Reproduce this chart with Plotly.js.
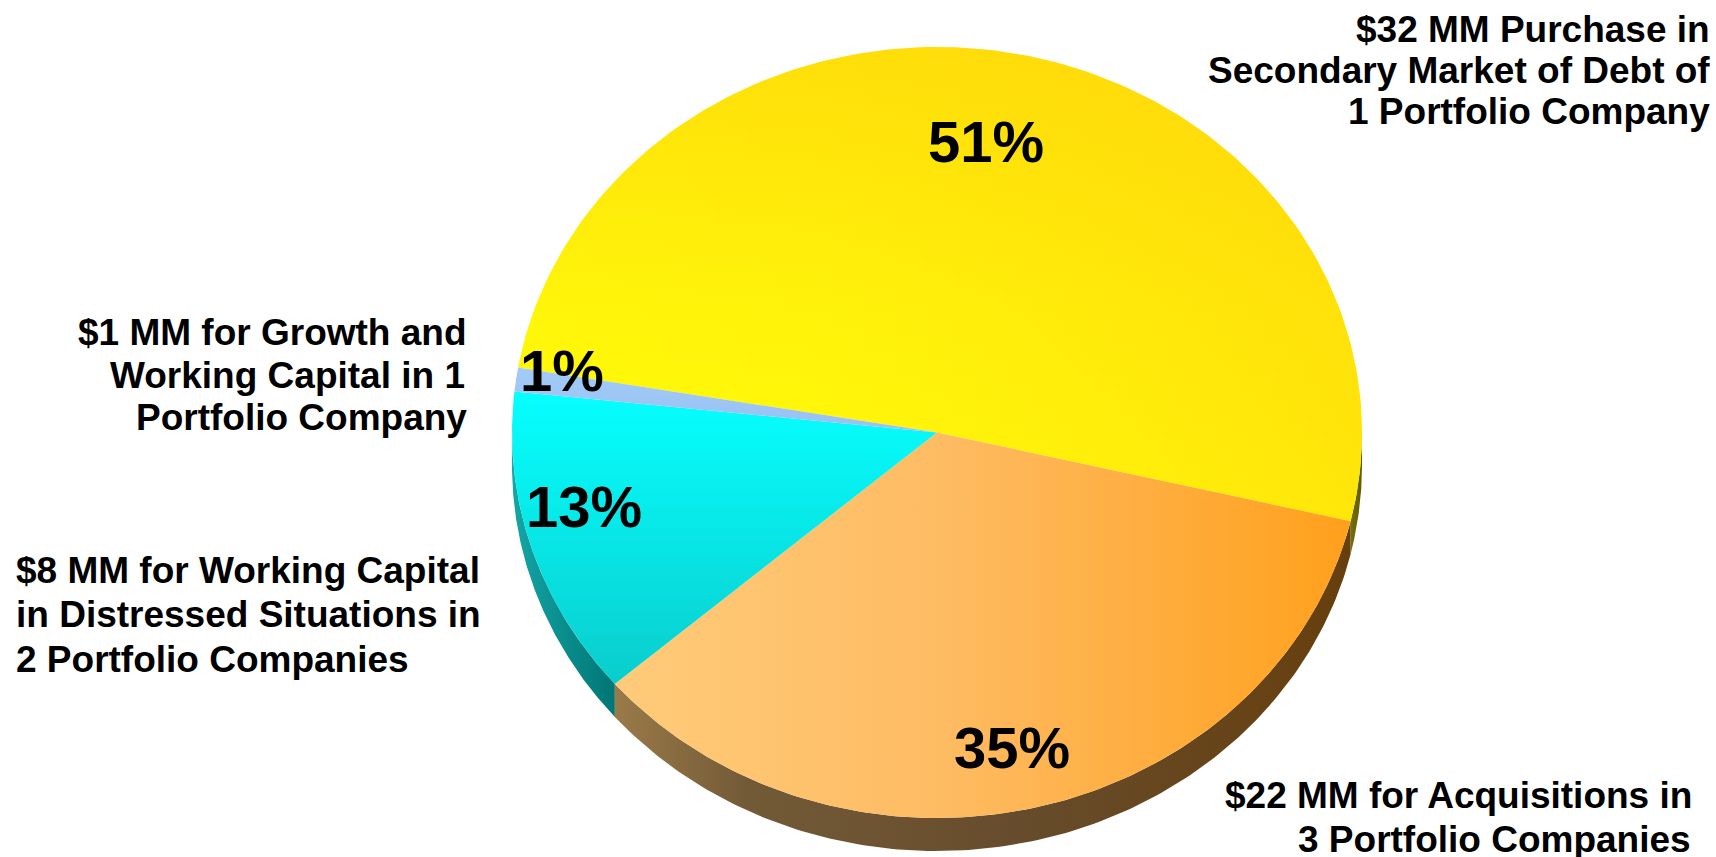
<!DOCTYPE html>
<html>
<head>
<meta charset="utf-8">
<script src="https://cdn.plot.ly/plotly-3.0.1.min.js"></script>
<style>
  html, body { margin: 0; padding: 0; background: #ffffff; }
  #chart { width: 1716px; height: 857px; }
</style>
</head>
<body>
<div id="chart"></div>
<script>
// Uses of capital: share of total deployed (percent), one entry per use
const categories = [
  ['$32 MM Purchase in', 'Secondary Market of Debt of', '1 Portfolio Company'],
  ['$22 MM for Acquisitions in', '3 Portfolio Companies'],
  ['$8 MM for Working Capital', 'in Distressed Situations in', '2 Portfolio Companies'],
  ['$1 MM for Growth and', 'Working Capital in 1', 'Portfolio Company']
];
const shares = [51, 35, 13, 1];

// ---- geometry of the tilted disc (pixels) ----
const W = 1716, H = 857;
const CX = 937, CY = 432.5;     // centre of the top face
const RX = 425, RY = 385.5;     // semi-axes of the top face
const DEPTH = 33;               // thickness of the disc
const START_DEG = 170.3;        // first slice starts here, slices run clockwise
const ARC_STEPS = 160;

// ---- styling ----
const faceFills = [
  { type: 'vertical',   colorscale: [[0, '#FFFF0A'], [0.45, '#FFF50A'], [1, '#FFE00A']] },
  { type: 'horizontal', colorscale: [[0, '#FFCB7A'], [0.45, '#FEBB62'], [1, '#FFA01C']] },
  { type: 'vertical',   colorscale: [[0, '#0ACDCD'], [1, '#06FFFF']] },
  { type: 'vertical',   colorscale: [[0, '#96C1F4'], [1, '#A4CBF6']] }
];
// extra warm sheen laid over the largest slice
const faceSheens = [
  { type: 'horizontal', colorscale: [[0, 'rgba(255,205,10,0)'], [0.35, 'rgba(255,205,10,0.08)'], [1, 'rgba(255,200,10,0.45)']] },
  null, null, null
];
const wallFills = [
  { type: 'horizontal', colorscale: [[0, '#75700A'], [1, '#5E5A02']] },
  { type: 'horizontal', colorscale: [[0, '#9A7A48'], [0.18, '#735A37'], [0.55, '#664C2C'], [1, '#673F0D']] },
  { type: 'horizontal', colorscale: [[0, '#14A6A6'], [1, '#007575']] },
  { type: 'horizontal', colorscale: [[0, '#7090B8'], [1, '#5A7AA0']] }
];
const FONT = 'Liberation Sans, Arial, Helvetica, sans-serif';
const PCT_SIZE = 58;
const LABEL_SIZE = 37;

// percent label anchor inside each slice (unit-disc coordinates)
const pctPositions = [[0.115, 0.754], [0.176, -0.816], [-0.831, -0.193], [-0.882, 0.160]];
// outer label lines: anchor x (px), alignment, and vertical centre of each line (px)
const labelPlacement = [
  { x: [1710, 1710, 1710], anchor: 'right', y: [29, 70, 111] },
  { x: [1225, 1298],       anchor: 'left',  y: [795, 839] },
  { x: [16, 16, 16],       anchor: 'left',  y: [570, 614, 659] },
  { x: [467, 465, 467],    anchor: 'right', y: [332, 375, 417] }
];

// unit-disc coordinates: x scaled by RX, y by RY, origin at the disc centre
const dyWall = DEPTH / RY;
const xRange = [-CX / RX, (W - CX) / RX];
const yRange = [-(H - CY) / RY, CY / RY];

function arc(a0, a1, dy) {
  const xs = [], ys = [];
  for (let i = 0; i <= ARC_STEPS; i++) {
    const t = (a0 + (a1 - a0) * i / ARC_STEPS) * Math.PI / 180;
    xs.push(Math.cos(t));
    ys.push(Math.sin(t) + dy);
  }
  return [xs, ys];
}

const total = shares.reduce((s, v) => s + v, 0);
const slices = [];
let cursor = START_DEG;
shares.forEach((v, i) => {
  const sweep = v / total * 360;
  slices.push({ i, start: cursor, end: cursor - sweep });
  cursor -= sweep;
});

const walls = [], faces = [];

slices.forEach(s => {
  // front wall: the part of the rim lying in the lower half (angles -180..0, mod 360)
  const lo = s.end, hi = s.start;
  for (let k = -1; k <= 1; k++) {
    const a = Math.max(lo, -180 + 360 * k);
    const b = Math.min(hi, 0 + 360 * k);
    if (b - a > 1e-6) {
      const [tx, ty] = arc(a, b, 0);
      const [bx, by] = arc(b, a, -dyWall);
      walls.push({
        type: 'scatter', mode: 'lines',
        x: tx.concat(bx, [tx[0]]), y: ty.concat(by, [ty[0]]),
        fill: 'toself', fillgradient: wallFills[s.i],
        line: { width: 0 }, hoverinfo: 'skip'
      });
    }
  }
  // top face
  const [ax, ay] = arc(s.start, s.end, 0);
  const fx = [0].concat(ax, [0]);
  const fy = [0].concat(ay, [0]);
  faces.push({
    type: 'scatter', mode: 'lines', x: fx, y: fy,
    fill: 'toself', fillgradient: faceFills[s.i],
    line: { width: 0 },
    name: categories[s.i].join(' '),
    text: shares[s.i] + '%', hoverinfo: 'name+text'
  });
  if (faceSheens[s.i]) {
    faces.push({
      type: 'scatter', mode: 'lines', x: fx, y: fy,
      fill: 'toself', fillgradient: faceSheens[s.i],
      line: { width: 0 }, hoverinfo: 'skip'
    });
  }
});

const annotations = [];
shares.forEach((v, i) => {
  annotations.push({
    xref: 'x', yref: 'y', x: pctPositions[i][0], y: pctPositions[i][1],
    text: v + '%', showarrow: false, xanchor: 'center', yanchor: 'middle',
    borderpad: 0, borderwidth: 0,
    font: { family: FONT, size: PCT_SIZE, color: '#000000', weight: 700 }
  });
});
categories.forEach((lines, i) => {
  const p = labelPlacement[i];
  lines.forEach((line, j) => {
    annotations.push({
      xref: 'paper', yref: 'paper', x: p.x[j] / W, y: 1 - p.y[j] / H,
      text: line, showarrow: false, xanchor: p.anchor, yanchor: 'middle',
      align: p.anchor, borderpad: 0, borderwidth: 0,
      font: { family: FONT, size: LABEL_SIZE, color: '#000000', weight: 700 }
    });
  });
});

const layout = {
  width: W, height: H,
  margin: { l: 0, r: 0, t: 0, b: 0, pad: 0 },
  paper_bgcolor: '#ffffff', plot_bgcolor: '#ffffff',
  showlegend: false,
  xaxis: { range: xRange, visible: false, fixedrange: true },
  yaxis: { range: yRange, visible: false, fixedrange: true },
  annotations: annotations
};

Plotly.newPlot('chart', walls.concat(faces), layout, { displayModeBar: false, responsive: false });
</script>
</body>
</html>
